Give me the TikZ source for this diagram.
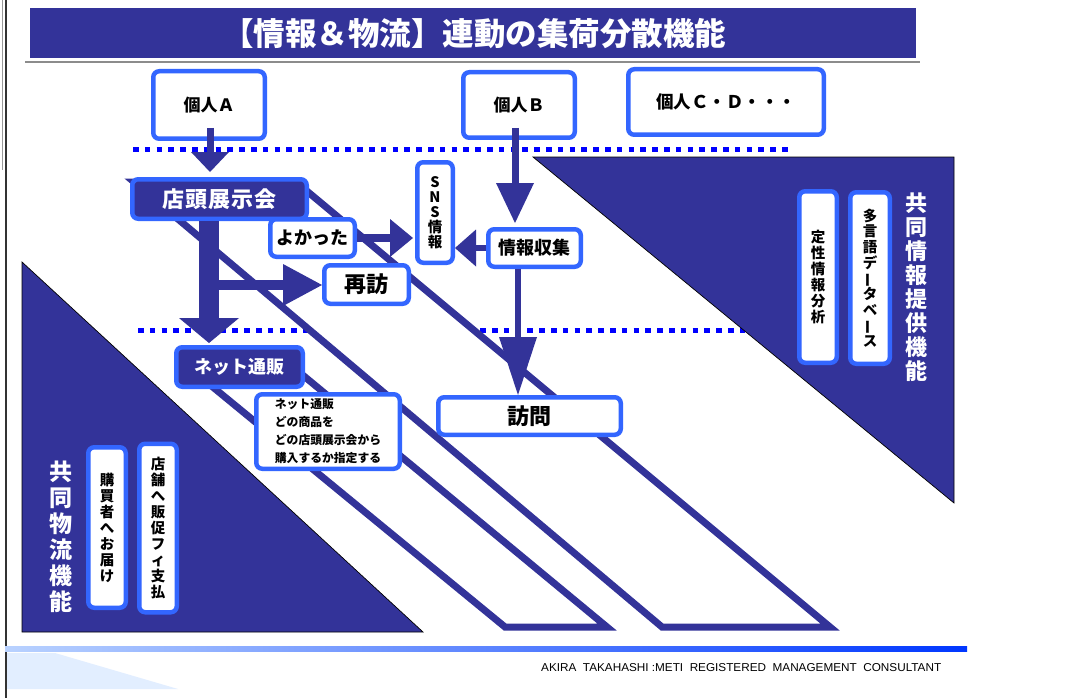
\documentclass[tikz,border=0pt]{standalone}
\usepackage{fontspec}
\usepackage{graphicx}
\setmainfont{Noto Sans CJK JP}
\newfontfamily\arialf{Liberation Sans}
\usetikzlibrary{arrows.meta,calc}
\definecolor{navy}{RGB}{51,51,153}
\definecolor{bblue}{RGB}{51,102,255}
\definecolor{dotblue}{RGB}{0,0,255}
\definecolor{barl}{RGB}{185,210,255}
\definecolor{barr}{RGB}{0,55,255}
\definecolor{paleb}{RGB}{226,238,255}
\newcommand\fsz[2]{\fontsize{#1}{#2}\selectfont}
\newcommand\lsp[1]{\addfontfeatures{LetterSpace=#1}}
\newcommand\vbar{\smash{\rotatebox[origin=c]{90}{ー}}}
\begin{document}
\begin{tikzpicture}[x=1pt,y=-1pt,
  wbox/.style={draw=bblue, line width=4.5pt, rounded corners=6pt, fill=white, inner sep=0pt, text=black},
  nbox/.style={wbox, fill=navy, text=white},
  tri/.style={fill=navy, draw=black, line width=0.7pt},
  stripe/.style={draw=navy, fill=white, line width=7pt, line join=miter},
  dots/.style={draw=dotblue, line width=5pt, dash pattern=on 5.5pt off 6.3pt},
  fat/.style={draw=navy, line width=#1}
]
\useasboundingbox (0,0) rectangle (1081,698);
\fill[white] (0,0) rectangle (1081,698);

% page border
\draw[black!80, line width=1.2pt] (6,0) -- (6,698);
\draw[black!40, line width=0.8pt] (2,0) -- (2,170);

% title
\draw[black!45, line width=2pt] (25,62.5) -- (920,62.5);
\fill[navy] (30,8) rectangle (916,58);
\node[text=white, font=\bfseries\fsz{31.5}{33}, inner sep=0pt] (title) at (474,34) {【情報＆物流】連動の集荷分散機能};

% dotted separators
\draw[dots] (133,149) -- (790,149);
\draw[dots] (138,330) -- (745,330);

% function triangles
\draw[tri] (533,157) -- (954,157) -- (954,503) -- cycle;
\draw[tri] (22,262) -- (22,632) -- (423,632) -- cycle;

% stripes
\draw[stripe] (194.5,372) -- (299,372) -- (607,627) -- (505,627) -- cycle;
\draw[stripe] (134,182) -- (296,182) -- (830,627) -- (662,627) -- cycle;

% boxes
\node[wbox, minimum width=111.5pt, minimum height=67.5pt, font=\bfseries\fsz{17}{19}] (kA) at (209,105) {個人Ａ};
\node[wbox, minimum width=111.5pt, minimum height=65.5pt, font=\bfseries\fsz{17}{19}] (kB) at (519,105) {個人Ｂ};
\node[wbox, minimum width=195.5pt, minimum height=65.5pt, font=\bfseries\fsz{17.5}{19}] (kC) at (726,102) {個人Ｃ・Ｄ・・・};
\node[nbox, minimum width=174.5pt, minimum height=39.5pt, font=\bfseries\fsz{22}{24}\lsp{5}] (ten) at (219.5,199) {店頭展示会};
\node[wbox, minimum width=84.5pt, minimum height=37.5pt, font=\bfseries\fsz{18}{20}] (yok) at (312.5,238) {よかった};
\node[wbox, minimum width=84.5pt, minimum height=38.5pt, font=\bfseries\fsz{22}{24}] (sai) at (366.5,284.5) {再訪};
\node[wbox, minimum width=35.5pt, minimum height=100.5pt, font=\bfseries\fsz{14.5}{15}, align=center] (sns) at (435,212.5) {S\\N\\S\\情\\報};
\node[wbox, minimum width=92.5pt, minimum height=37.5pt, font=\bfseries\fsz{18}{20}] (jok) at (534.5,248) {情報収集};
\node[nbox, minimum width=126.5pt, minimum height=39.5pt, font=\bfseries\fsz{18}{20}] (net) at (239.5,367) {ネット通販};
\node[wbox, minimum width=143.5pt, minimum height=74.5pt, font=\bfseries\fsz{11.8}{18}, align=left] (info) at (328,431.5) {ネット通販\\どの商品を\\どの店頭展示会から\\購入するか指定する};
\node[wbox, minimum width=182.5pt, minimum height=37.5pt, font=\bfseries\fsz{22}{24}] (hom) at (529.5,416) {訪問};

\node[wbox, minimum width=37.5pt, minimum height=171.5pt, font=\bfseries\fsz{14.5}{16}, align=center] (tei) at (818,277) {定\\性\\情\\報\\分\\析};
\node[wbox, minimum width=39.5pt, minimum height=171.5pt, font=\bfseries\fsz{14.5}{15.7}, align=center] (tag) at (870,278) {多\\言\\語\\デ\\\vbar\\タ\\ベ\\\vbar\\ス};
\node[text=white, font=\bfseries\fsz{22}{24}, align=center, inner sep=0pt] (kyoj) at (916,287.5) {共\\同\\情\\報\\提\\供\\機\\能};

\node[wbox, minimum width=37.5pt, minimum height=160.5pt, font=\bfseries\fsz{14.5}{16}, align=center] (kou) at (107,527.5) {購\\買\\者\\へ\\お\\届\\け};
\node[wbox, minimum width=37.5pt, minimum height=168.5pt, font=\bfseries\fsz{14.5}{16}, align=center] (tpo) at (158,528) {店\\舗\\へ\\販\\促\\フ\\ィ\\支\\払};
\node[text=white, font=\bfseries\fsz{23}{26}, align=center, inner sep=0pt] (kyob) at (61,536.5) {共\\同\\物\\流\\機\\能};

% arrow guide coordinates
\coordinate (xA) at (210,0);
\coordinate (xB) at (515,0);
\coordinate (xC) at (209,0);
\coordinate (xD) at (518,0);
\coordinate (br) at (208,285);

% arrows
\draw[fat=7pt, -{Triangle[width=38pt,length=20pt,line width=0pt]}, shorten <=-13pt, shorten >=5pt] (kA.south -| xA) -- (ten.north -| xA);
\draw[fat=7pt, -{Triangle[width=38pt,length=40pt,line width=0pt]}, shorten <=-12pt, shorten >=4pt] (kB.south -| xB) -- (jok.north -| xB);
\draw[fat=6pt, -{Triangle[width=37pt,length=21pt,line width=0pt]}] (jok.west) -- (sns.east |- jok.west);
\draw[fat=8pt, -{Triangle[width=38pt,length=23pt,line width=0pt]}, shorten >=2pt] (yok.east) -- (sns.west |- yok.east);
\draw[fat=10pt, -{Triangle[width=42pt,length=39pt,line width=0pt]}] (br) -- (sai.west |- br);
\draw[fat=20pt, -{Triangle[width=60pt,length=25pt,line width=0pt]}, shorten >=2pt] (ten.south -| xC) -- (net.north -| xC);
\draw[fat=6pt, -{Triangle[width=38pt,length=58pt,line width=0pt]}] (jok.south -| xD) -- (hom.north -| xD);

% footer
\shade[left color=barl, right color=barr] (5,646) rectangle (967,651.5);
\fill[paleb] (7,653) -- (55,653) -- (178,689) -- (7,689) -- cycle;
\node[anchor=west, inner sep=0pt] (foot) at (541,668) {\resizebox{400pt}{8pt}{\arialf AKIRA\ \ TAKAHASHI :METI\ \ REGISTERED\ \ MANAGEMENT\ \ CONSULTANT}};
\end{tikzpicture}
\end{document}
